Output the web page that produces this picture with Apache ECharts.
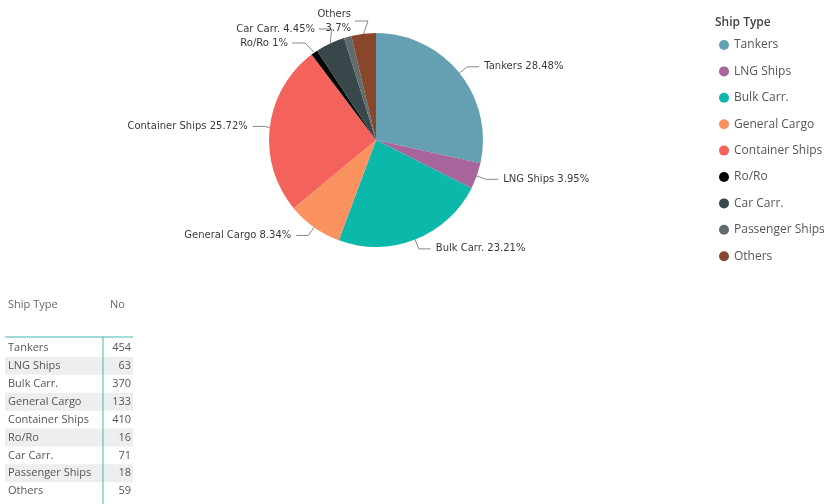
<!DOCTYPE html>
<html>
<head>
<meta charset="utf-8">
<script src="https://cdn.jsdelivr.net/npm/echarts@6/dist/echarts.min.js"></script>
<style>
html,body{margin:0;padding:0;background:#fff;}
#chart{width:824px;height:504px;}
</style>
</head>
<body>
<div id="chart"></div>
<script>
const categories = ['Tankers','LNG Ships','Bulk Carr.','General Cargo','Container Ships','Ro/Ro','Car Carr.','Passenger Ships','Others'];
const counts = [454, 63, 370, 133, 410, 16, 71, 18, 59];
const colors = ['#64a0b2','#a6669c','#0bb8aa','#f9925f','#f4625c','#050505','#37474a','#626b6d','#87472a'];
const hiddenLabels = ['Passenger Ships'];
const tableHeader = ['Ship Type','No'];

const chart = echarts.init(document.getElementById('chart'), null, {renderer:'canvas'});

const labelFont = 'DejaVu Sans';
const uiFont = 'Open Sans';
const total = counts.reduce((a,b)=>a+b,0);

// label placement for crowded labels (label text anchor, right-aligned; not marks)
const labelAnchor = {'Ro/Ro': [288, 43], 'Car Carr.': [315, 29], 'Others': [351, 21]};

// table graphics
const tbl = [];
const tX = 5, tW = 128, rowH = 17.9, row0 = 348, splitX = 103, lineY = 337;
const tFont = '11px "'+uiFont+'"';
tbl.push({type:'text', x: 8, y: 305, style:{text: tableHeader[0], font:tFont, fill:'#666', textVerticalAlign:'middle'}});
tbl.push({type:'text', x: 110, y: 305, style:{text: tableHeader[1], font:tFont, fill:'#666', textVerticalAlign:'middle'}});
categories.forEach((c,i)=>{
  const cy = row0 + i*rowH;
  if(i%2===1){
    tbl.push({type:'rect', shape:{x:tX, y:cy-rowH/2, width:tW, height:rowH}, style:{fill:'#eeeeee'}, z:1});
  }
  tbl.push({type:'text', x: 8, y: cy, style:{text:c, font:tFont, fill:'#555', textVerticalAlign:'middle', textAlign:'left'}, z:3});
  tbl.push({type:'text', x: 131, y: cy, style:{text:String(counts[i]), font:tFont, fill:'#555', textVerticalAlign:'middle', textAlign:'right'}, z:3});
});
tbl.push({type:'line', shape:{x1:tX, y1:lineY, x2:tX+tW, y2:lineY}, style:{stroke:'#45b9b0', lineWidth:1}, z:4});
tbl.push({type:'line', shape:{x1:splitX, y1:lineY, x2:splitX, y2:504}, style:{stroke:'#45b9b0', lineWidth:1}, z:4});

const data = categories.map((c,i)=>{
  const d = {name:c, value:counts[i], itemStyle:{color:colors[i]}};
  if(hiddenLabels.includes(c)){ d.label={show:false}; d.labelLine={show:false}; }
  return d;
});

chart.setOption({
  animation:false,
  title:{text:'Ship Type', left:710, top:12, textStyle:{fontFamily:uiFont, fontSize:12, fontWeight:600, color:'#444'}},
  legend:{
    orient:'vertical', left:714, top:34, itemWidth:10, itemHeight:10, itemGap:14.4, icon:'circle',
    textStyle:{fontFamily:uiFont, fontSize:12, color:'#555'},
    data: categories
  },
  graphic: tbl,
  series:[{
    type:'pie', center:[376,140], radius:107, startAngle:90, clockwise:true,
    label:{
      show:true, fontFamily:labelFont, fontSize:10, color:'#3a3a3a', lineHeight:14,
      formatter: p => {
        const v = +(p.value/total*100).toFixed(2);
        return p.name === 'Others' ? p.name + '\n' + v + '%' : p.name + ' ' + v + '%';
      }
    },
    labelLine:{show:true, length:10, length2:12, lineStyle:{color:'#888', width:1}},
    labelLayout: function(p){
      const a = labelAnchor[categories[p.dataIndex]];
      if(!a) return {};
      const pts = p.labelLinePoints;
      const out = {x: a[0], y: a[1], align:'right'};
      if(pts && pts.length===3){
        out.labelLinePoints = [pts[0], [a[0]+17, a[1]], [a[0]+4, a[1]]];
      }
      return out;
    },
    data: data
  }]
});
</script>
</body>
</html>
